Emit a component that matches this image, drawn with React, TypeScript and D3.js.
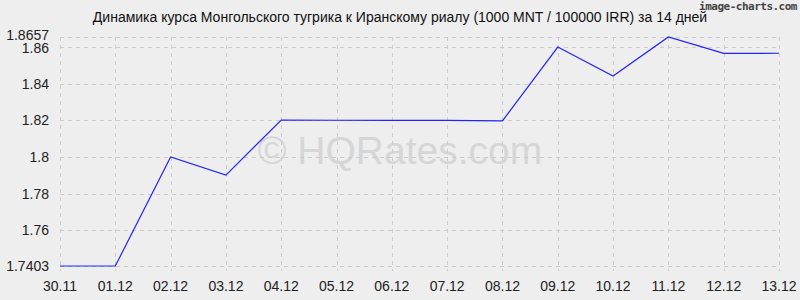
import React from "react";
import * as d3 from "d3";

const dates = ["30.11","01.12","02.12","03.12","04.12","05.12","06.12","07.12","08.12","09.12","10.12","11.12","12.12","13.12"];
const rates = [1.7403,1.7403,1.8000,1.7901,1.8202,1.8201,1.8200,1.8200,1.8198,1.8602,1.8443,1.8657,1.8567,1.8568];
const yTicks = [1.7403,1.76,1.78,1.8,1.82,1.84,1.86,1.8657];
const yTickLabels = ["1.7403","1.76","1.78","1.8","1.82","1.84","1.86","1.8657"];
const title = "Динамика курса Монгольского тугрика к Иранскому риалу (1000 MNT / 100000 IRR) за 14 дней";

export default function App() {
  const W = 800, H = 300;
  const left = 60, right = 779, top = 37, bottom = 266;
  const x = d3.scalePoint<string>().domain(dates).range([left, right]);
  const y = d3.scaleLinear().domain([1.7403, 1.8657]).range([bottom, top]);
  const line = d3.line<number>().x((_, i) => x(dates[i])!).y(d => y(d));
  const font = "'Liberation Sans', Arial, sans-serif";
  return (
    <svg width={W} height={H} style={{ position: "absolute", left: 0, top: 0 }} fontFamily={font}>
      <rect x={0} y={0} width={W} height={H} fill="#eeeeee" />
      <text x={400} y={164} textAnchor="middle" fontSize={39} fill="#d6d6d6">© HQRates.com</text>
      {yTicks.map((t, i) => (
        <line key={"h" + i} x1={left} x2={right} y1={Math.round(y(t)) + 0.5} y2={Math.round(y(t)) + 0.5} stroke="#cccccc" strokeDasharray="4,4" />
      ))}
      {dates.map((d, i) => (
        <line key={"v" + i} x1={Math.round(x(d)!) + 0.5} x2={Math.round(x(d)!) + 0.5} y1={top} y2={bottom + 5} stroke="#cccccc" strokeDasharray="4,4" />
      ))}
      <path d={line(rates)!} fill="none" stroke="#2222ff" strokeWidth={1.2} />
      {yTicks.map((t, i) => (
        <text key={"yl" + i} x={49} y={y(t) + (t === 1.8657 ? 3 : t === 1.86 ? 6 : 5)} textAnchor="end" fontSize={14} fill="#222">{yTickLabels[i]}</text>
      ))}
      {dates.map((d, i) => (
        <text key={"xl" + i} x={x(d)!} y={291} textAnchor="middle" fontSize={14} fill="#222">{d}</text>
      ))}
      <text x={400} y={22} textAnchor="middle" fontSize={14} fill="#111">{title}</text>
      <text x={797} y={10} textAnchor="end" fontSize={11} fontWeight="bold" fill="#444" fontFamily="'DejaVu Sans Mono', monospace" letterSpacing={-0.5}>image-charts.com</text>
    </svg>
  );
}
